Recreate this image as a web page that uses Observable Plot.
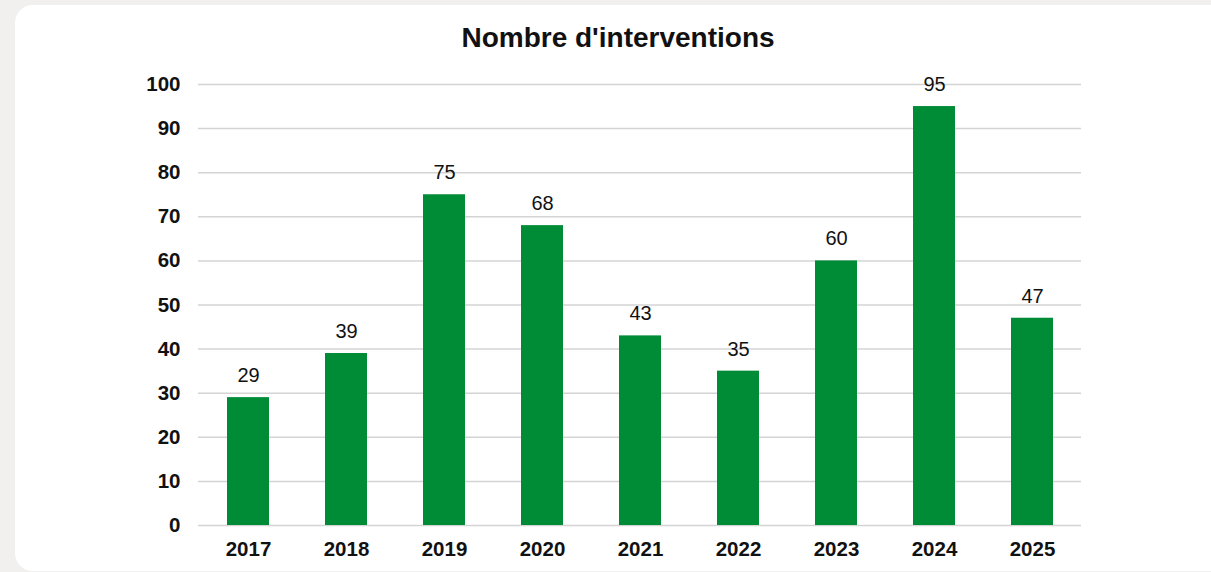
<!DOCTYPE html>
<html>
<head>
<meta charset="utf-8">
<script src="https://cdn.jsdelivr.net/npm/d3@7"></script>
<script src="https://cdn.jsdelivr.net/npm/@observablehq/plot@0.6"></script>
<style>
  html, body { margin: 0; padding: 0; background: #f1f0ee; width: 1211px; height: 572px; overflow: hidden; font-family: "Liberation Sans", Arial, sans-serif; }
  #card { position: absolute; left: 15px; top: 5px; width: 1230px; height: 566px; background: #ffffff; border-radius: 18px; }
  #title { position: absolute; left: 0; top: 22px; width: 1236px; text-align: center; font: bold 28px "Liberation Sans", Arial, sans-serif; color: #111; }
  #chart { position: absolute; left: 0; top: 0; }
</style>
</head>
<body>
<div id="card"></div>
<div id="title">Nombre d'interventions</div>
<div id="chart"></div>
<script>
const years = ["2017", "2018", "2019", "2020", "2021", "2022", "2023", "2024", "2025"];
const interventions = [29, 39, 75, 68, 43, 35, 60, 95, 47];
const yTicks = [0, 10, 20, 30, 40, 50, 60, 70, 80, 90, 100];

const data = years.map((y, i) => ({year: y, value: interventions[i]}));

const chart = Plot.plot({
  width: 1211,
  height: 572,
  marginLeft: 198,
  marginRight: 130,
  marginTop: 84,
  marginBottom: 47,
  style: {background: "transparent", fontFamily: "'Liberation Sans', Arial, sans-serif", color: "#111"},
  x: {domain: years, paddingInner: 0.572, paddingOuter: 0.286, label: null},
  y: {domain: [0, 100], label: null},
  marks: [
    Plot.gridY(yTicks, {stroke: "#d4d4d4", strokeOpacity: 1, strokeWidth: 1.5}),
    Plot.barY(data, {x: "year", y: "value", fill: "#008c37"}),
    Plot.text(data, {x: "year", y: "value", text: d => String(d.value), dy: -22, fontSize: 20, fill: "#111"}),
    Plot.axisY(yTicks, {tickSize: 0, tickPadding: 18, fontSize: 20.5, fontWeight: "bold", label: null}),
    Plot.axisX({tickSize: 0, tickPadding: 16, fontSize: 20.5, fontWeight: "bold", label: null})
  ]
});
document.getElementById("chart").appendChild(chart);
</script>
</body>
</html>
